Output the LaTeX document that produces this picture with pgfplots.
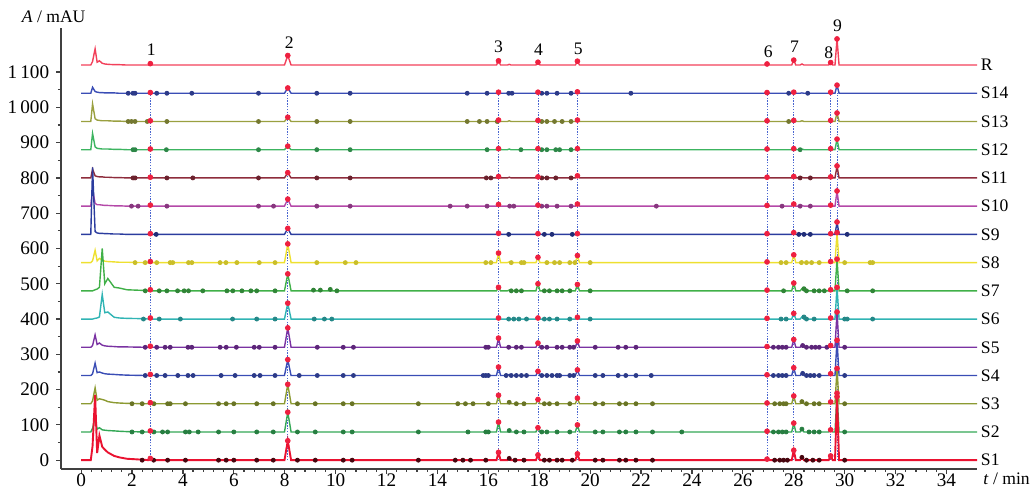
\documentclass[border=0pt]{standalone}
\usepackage{fontspec}
\setmainfont{Liberation Serif}
\usepackage{pgfplots}
\pgfplotsset{compat=1.18}
\usepackage{pgfplotstable}

\definecolor{cR}{HTML}{F2405A}
\definecolor{cS14}{HTML}{3A4DB5}
\definecolor{cS13}{HTML}{9AA040}
\definecolor{cS12}{HTML}{3CB460}
\definecolor{cS11}{HTML}{8E2C3C}
\definecolor{cS10}{HTML}{B448A8}
\definecolor{cS9}{HTML}{2B3C9E}
\definecolor{cS8}{HTML}{EEE030}
\definecolor{cS7}{HTML}{40B048}
\definecolor{cS6}{HTML}{30B4B4}
\definecolor{cS5}{HTML}{7A32A2}
\definecolor{cS4}{HTML}{3A4DB5}
\definecolor{cS3}{HTML}{8C9A32}
\definecolor{cS2}{HTML}{34A856}
\definecolor{cS1}{HTML}{EA1230}
\definecolor{cTop}{HTML}{EE2040}
\definecolor{cLine}{HTML}{4A66D0}

\pgfplotstableread{
t     S1  S2  S3  S4  S5  S6  S7  S8  S9  S10 S11 S12 S13  S14  R
0.00  0   80  160 240 320 400 480 560 640 720 800 880 960  1040 1120
0.38  0   80  160 240 320 400 480 560 640 720 800 880 960  1040 1120
0.45  40  90  168 245 325 400 480 565 830 768 825 926 1010 1057 1130
0.55  185 120 205 275 355 402 483 595 648 728 806 888 968  1045 1166
0.63  20  88  170 248 328 403 485 565 644 724 804 884 964  1043 1128
0.72  70  92  174 250 332 406 490 572 643 724 803 883 963  1042 1132
0.83  38  86  172 247 326 470 600 568 643 723 803 882 962  1042 1125
0.93  30  85  170 245 324 418 500 564 642 722 802 882 962  1041 1123
1.05  22  84  166 244 323 420 515 563 642 722 802 882 962  1041 1122
1.30  12  83  163 243 322 405 490 562 641 721 801 881 961  1041 1121
1.50  8   82  162 242 321 403 488 561 641 721 801 881 961  1040 1121
1.80  4   81  161 241 321 402 483 561 640 720 800 880 960  1040 1120
2.50  1   80  160 240 320 401 481 560 640 720 800 880 960  1040 1120
2.64  0   80  160 240 320 400 480 560 640 720 800 880 960  1040 1120
2.72  5   83  163 243 323 403 483 563 642 723 802 882 962  1042 1124
2.80  0   80  160 240 320 400 480 560 640 720 800 880 960  1040 1120
7.99  0   80  160 240 320 400 480 560 640 720 800 880 960  1040 1120
8.12  55  136 215 285 375 445 528 613 657 740 815 890 972  1055 1147
8.25  0   80  160 240 320 400 480 560 640 720 800 880 960  1040 1120
16.32 0   80  160 240 320 400 480 560 640 720 800 880 960  1040 1120
16.40 22  108 184 264 346 403 490 587 643 725 804 883 964  1043 1132
16.48 0   80  160 240 320 400 480 560 640 720 800 880 960  1040 1120
16.75 0   80  160 240 320 400 480 560 640 720 800 880 960  1040 1120
16.82 5   84  164 243 323 402 482 562 642 722 802 882 962  1042 1122
16.89 0   80  160 240 320 400 480 560 640 720 800 880 960  1040 1120
17.87 0   80  160 240 320 400 480 560 640 720 800 880 960  1040 1120
17.95 15  92  172 252 332 403 500 575 642 723 803 883 963  1043 1128
18.03 0   80  160 240 320 400 480 560 640 720 800 880 960  1040 1120
19.42 0   80  160 240 320 400 480 560 640 720 800 880 960  1040 1120
19.50 18  100 176 256 338 405 498 580 642 726 806 883 964  1044 1131
19.58 0   80  160 240 320 400 480 560 640 720 800 880 960  1040 1120
26.87 0   80  160 240 320 400 480 560 640 720 800 880 960  1040 1120
26.95 3   82  162 242 322 402 482 562 642 722 802 882 962  1042 1123
27.03 0   80  160 240 320 400 480 560 640 720 800 880 960  1040 1120
27.92 0   80  160 240 320 400 480 560 640 720 800 880 960  1040 1120
28.00 28  105 182 262 342 416 502 582 645 726 804 883 963  1043 1134
28.08 0   80  160 240 320 400 480 560 640 720 800 880 960  1040 1120
28.25 0   80  160 240 320 400 480 560 640 720 800 880 960  1040 1120
28.32 8   88  166 246 325 406 486 565 642 722 802 882 962  1041 1123
28.40 0   80  160 240 320 400 480 560 640 720 800 880 960  1040 1120
29.37 0   80  160 240 320 400 480 560 640 720 800 880 960  1040 1120
29.45 12  86  165 245 325 403 483 563 642 723 803 883 963  1043 1127
29.53 0   80  160 240 320 400 480 560 640 720 800 880 960  1040 1120
29.62 0   80  160 240 320 400 480 560 640 720 800 880 960  1040 1120
29.70 180 190 260 340 420 490 570 645 675 763 834 910 984  1063 1194
29.78 0   80  160 240 320 400 480 560 640 720 800 880 960  1040 1120
35.20 0   80  160 240 320 400 480 560 640 720 800 880 960  1040 1120
}\chrom

\pgfplotstableread{
t     S1  S2  S3  S4  S5  S6  S7  S8  S9  S10 S11 S12 S13  S14  R
2.72  5   83  163 243 323 403 483 563 642 723 802 882 962  1042 1124
8.12  55  136 215 285 375 445 528 613 657 740 815 890 972  1055 1147
16.40 22  108 184 264 346 403 490 587 643 725 804 883 964  1043 1132
17.95 15  92  172 252 332 403 500 575 642 723 803 883 963  1043 1128
19.50 18  100 176 256 338 405 498 580 642 726 806 883 964  1044 1131
26.95 3   82  162 242 322 402 482 562 642 722 802 882 962  1042 1123
28.00 28  105 182 262 342 416 502 582 645 726 804 883 963  1043 1134
29.45 12  86  165 245 325 403 483 563 642 723 803 883 963  1043 1127
29.70 180 190 260 340 420 490 570 645 675 763 834 910 984  1063 1194
}\tops

\pgfplotsset{
  trace/.style={mark=none, line width=0.7pt},
  dots/.style={only marks, mark=*, mark size=1.0pt},
  topm/.style={only marks, mark=*, mark size=1.2pt, color=cTop},
  pk/.style={cLine, dash pattern=on 0.7pt off 0.7pt, line width=0.45pt},
}

\begin{document}
\begin{tikzpicture}
\begin{axis}[
  at={(0,0)}, anchor=south west,
  scale only axis, width=458pt, height=220.5pt,
  xmin=-0.79, xmax=35.2, ymin=-25, ymax=1225,
  axis x line*=bottom, axis y line*=left,
  axis line style={black!75, line width=0.8pt},
  tick align=outside,
  xtick={0,2,...,34}, minor x tick num=4,
  ytick={0,100,...,1100}, minor y tick num=1,
  yticklabels={0,100,200,300,400,500,600,700,800,900,1\,000,1\,100},
  tick style={black!75, line width=0.6pt},
  major tick length=2.4pt, minor tick length=1.5pt,
  ticklabel style={font=\fontsize{9.6}{11}\selectfont},
  xticklabel style={yshift=3.6pt},
  /pgf/number format/assume math mode=true,
  clip=false,
]
% reference peak lines
\addplot[pk] coordinates {(2.72,0) (2.72,1040)};
\addplot[pk] coordinates {(8.12,0) (8.12,1040)};
\addplot[pk] coordinates {(16.40,0) (16.40,1040)};
\addplot[pk] coordinates {(17.95,0) (17.95,1040)};
\addplot[pk] coordinates {(19.50,0) (19.50,1040)};
\addplot[pk] coordinates {(26.95,0) (26.95,1040)};
\addplot[pk] coordinates {(28.00,0) (28.00,1040)};
\addplot[pk] coordinates {(29.45,0) (29.45,1040)};
\addplot[pk] coordinates {(29.70,0) (29.70,1040)};

% traces
\addplot[trace, cR] table[x=t, y=R] {\chrom};
\addplot[trace, cS14] table[x=t, y=S14] {\chrom};
\addplot[trace, cS13] table[x=t, y=S13] {\chrom};
\addplot[trace, cS12] table[x=t, y=S12] {\chrom};
\addplot[trace, cS11] table[x=t, y=S11] {\chrom};
\addplot[trace, cS10] table[x=t, y=S10] {\chrom};
\addplot[trace, cS9] table[x=t, y=S9] {\chrom};
\addplot[trace, cS8] table[x=t, y=S8] {\chrom};
\addplot[trace, cS7] table[x=t, y=S7] {\chrom};
\addplot[trace, cS6] table[x=t, y=S6] {\chrom};
\addplot[trace, cS5] table[x=t, y=S5] {\chrom};
\addplot[trace, cS4] table[x=t, y=S4] {\chrom};
\addplot[trace, cS3] table[x=t, y=S3] {\chrom};
\addplot[trace, cS2] table[x=t, y=S2] {\chrom};
\addplot[trace, cS1, line width=0.95pt] table[x=t, y=S1] {\chrom};

% other detected peaks
\addplot[dots, cS14!75!black] coordinates {(1.85,1040)(2.04,1040)(2.12,1040)(2.97,1040)(3.37,1040)(4.35,1040)(6.97,1040)(9.26,1040)(10.57,1040)(15.17,1040)(15.95,1040)(16.8,1040)(16.93,1040)(18.1,1040)(18.3,1040)(18.7,1040)(19.25,1040)(21.6,1040)(27.8,1040)(28.55,1040)};
\addplot[dots, cS13!75!black] coordinates {(1.85,960)(1.98,960)(2.12,960)(2.6,960)(3.37,960)(6.97,960)(9.26,960)(10.57,960)(15.17,960)(15.65,960)(15.95,960)(16.35,960)(18.1,960)(18.3,960)(18.6,960)(18.9,960)(19.25,960)(27.8,960)};
\addplot[dots, cS12!75!black] coordinates {(2.04,880)(2.12,880)(3.35,880)(6.97,880)(9.26,880)(10.57,880)(15.95,880)(17.28,880)(18.1,880)(18.3,880)(18.65,880)(18.8,880)(19.25,880)(28.25,880)};
\addplot[dots, cS11!75!black] coordinates {(2.04,800)(2.12,800)(3.37,800)(4.39,800)(6.97,800)(9.26,800)(10.57,800)(15.92,800)(16.1,800)(18.1,800)(18.3,800)(18.65,800)(19.25,800)(28.25,800)(28.65,800)};
\addplot[dots, cS10!75!black] coordinates {(1.98,720)(2.24,720)(3.37,720)(6.97,720)(7.56,720)(9.26,720)(10.57,720)(14.5,720)(15.17,720)(15.95,720)(16.84,720)(17.0,720)(18.1,720)(18.3,720)(18.7,720)(19.25,720)(22.6,720)(27.54,720)(28.25,720)(28.65,720)};
\addplot[dots, cS9!75!black] coordinates {(2.95,640)(16.8,640)(18.2,640)(18.5,640)(19.3,640)(28.2,640)(28.4,640)(28.65,640)(30.1,640)};
\addplot[dots, cS8!85!black] coordinates {(2.12,560)(2.52,560)(2.97,560)(3.5,560)(3.6,560)(4.22,560)(4.35,560)(5.46,560)(5.69,560)(6.12,560)(7.0,560)(7.62,560)(9.26,560)(10.38,560)(10.8,560)(15.9,560)(16.1,560)(16.9,560)(17.3,560)(17.4,560)(18.3,560)(18.6,560)(18.8,560)(19.2,560)(19.4,560)(20.0,560)(27.5,560)(27.7,560)(28.3,560)(28.5,560)(28.7,560)(29.0,560)(30.0,560)(31.0,560)(31.1,560)};
\addplot[dots, cS7!75!black] coordinates {(2.52,480)(3.07,480)(3.37,480)(3.79,480)(4.05,480)(4.22,480)(4.78,480)(5.73,480)(5.96,480)(6.32,480)(6.67,480)(6.9,480)(7.62,480)(9.13,482)(9.4,482)(9.79,484)(10.05,480)(16.9,480)(17.1,480)(17.3,480)(18.2,480)(18.4,480)(18.7,480)(18.9,480)(19.2,480)(20.0,480)(27.6,480)(28.4,486)(28.5,480)(28.8,480)(29.0,480)(29.2,480)(30.1,480)(31.1,480)};
\addplot[dots, cS6!75!black] coordinates {(2.45,400)(3.07,400)(3.9,400)(5.95,400)(6.9,400)(7.62,400)(9.16,400)(9.56,400)(9.85,400)(16.8,400)(17.0,400)(17.2,400)(17.5,400)(18.2,400)(18.4,400)(18.7,400)(19.2,400)(20.0,400)(27.5,400)(27.7,400)(28.4,406)(28.5,400)(28.8,400)(30.0,400)(30.1,400)(31.1,400)};
\addplot[dots, cS5!75!black] coordinates {(2.52,320)(2.97,320)(3.3,320)(3.5,320)(4.2,320)(4.35,320)(5.46,320)(5.7,320)(6.1,320)(6.8,320)(7.0,320)(7.62,320)(9.28,320)(10.3,320)(10.7,320)(15.9,320)(16.0,320)(16.8,320)(17.1,320)(17.3,320)(18.1,320)(18.3,320)(18.7,320)(18.9,320)(19.2,320)(19.35,320)(20.2,320)(21.1,320)(21.4,320)(21.8,320)(27.2,320)(27.4,320)(27.55,320)(27.7,320)(28.35,325)(28.5,320)(28.7,320)(28.85,320)(29.0,320)(29.3,320)(30.0,320)};
\addplot[dots, cS4!75!black] coordinates {(2.52,240)(2.97,240)(3.3,240)(3.8,240)(4.2,240)(4.4,240)(5.5,240)(6.05,240)(6.8,240)(7.03,240)(7.62,240)(8.57,240)(9.28,240)(10.3,240)(10.7,240)(15.8,240)(15.9,240)(16.0,240)(16.7,240)(16.9,240)(17.1,240)(17.3,240)(17.5,240)(18.1,240)(18.3,240)(18.5,240)(18.7,240)(18.8,240)(19.2,240)(19.35,240)(20.2,240)(20.5,240)(21.1,240)(21.4,240)(21.8,240)(22.4,240)(27.2,240)(27.4,240)(27.55,240)(27.7,240)(28.35,246)(28.5,240)(28.65,240)(28.8,240)(29.0,240)(30.0,240)};
\addplot[dots, cS3!75!black] coordinates {(2.0,160)(2.4,160)(2.86,160)(3.4,160)(3.5,160)(4.1,160)(5.4,160)(5.7,160)(6.0,160)(6.9,160)(7.55,160)(8.5,160)(9.2,160)(10.3,160)(10.65,160)(13.25,160)(14.8,160)(15.1,160)(15.4,160)(16.0,160)(16.82,164)(17.1,160)(17.4,160)(18.2,160)(18.4,160)(18.7,160)(19.2,160)(20.2,160)(20.5,160)(21.15,160)(21.4,160)(21.8,160)(22.45,160)(27.25,160)(27.45,160)(27.6,160)(27.7,160)(28.32,166)(28.5,160)(28.8,160)(29.0,160)(30.0,160)};
\addplot[dots, cS2!75!black] coordinates {(2.0,80)(2.4,80)(2.86,80)(3.2,80)(3.4,80)(4.1,80)(4.25,80)(4.6,80)(5.4,80)(6.0,80)(6.9,80)(7.55,80)(8.5,80)(9.2,80)(10.3,80)(10.65,80)(13.25,80)(15.2,80)(15.9,80)(16.0,80)(16.82,84)(17.1,80)(17.4,80)(18.1,80)(18.3,80)(18.7,80)(19.2,80)(20.2,80)(20.5,80)(21.15,80)(21.4,80)(21.8,80)(22.45,80)(23.6,80)(27.2,80)(27.4,80)(27.55,80)(27.7,80)(28.32,88)(28.6,80)(28.8,80)(29.0,80)(30.0,80)};
\addplot[dots, black!70!cS1] coordinates {(2.4,0)(2.85,0)(3.4,0)(4.1,0)(5.4,0)(5.7,0)(6.0,0)(6.9,0)(7.55,0)(8.5,0)(9.2,0)(10.3,0)(10.65,0)(13.25,0)(14.7,0)(15.0,0)(15.3,0)(15.9,0)(16.82,5)(17.05,0)(17.4,0)(18.2,0)(18.4,0)(18.7,0)(18.9,0)(19.3,0)(20.2,0)(20.5,0)(21.15,0)(21.4,0)(21.8,0)(22.45,0)(27.25,0)(27.45,0)(27.6,0)(27.75,0)(28.32,8)(28.5,0)(28.75,0)(29.0,0)(30.0,0)};

% matched reference peaks
\addplot[topm] table[x=t, y=R] {\tops};
\addplot[topm] table[x=t, y=S14] {\tops};
\addplot[topm] table[x=t, y=S13] {\tops};
\addplot[topm] table[x=t, y=S12] {\tops};
\addplot[topm] table[x=t, y=S11] {\tops};
\addplot[topm] table[x=t, y=S10] {\tops};
\addplot[topm] table[x=t, y=S9] {\tops};
\addplot[topm] table[x=t, y=S8] {\tops};
\addplot[topm] table[x=t, y=S7] {\tops};
\addplot[topm] table[x=t, y=S6] {\tops};
\addplot[topm] table[x=t, y=S5] {\tops};
\addplot[topm] table[x=t, y=S4] {\tops};
\addplot[topm] table[x=t, y=S3] {\tops};
\addplot[topm] table[x=t, y=S2] {\tops};
\addplot[topm] table[x=t, y=S1] {\tops};

% peak numbers
\begin{scope}[every node/.style={font=\fontsize{8.8}{10}\selectfont, inner sep=0pt}]
\node at (axis cs:2.76,1163) {1};
\node at (axis cs:8.18,1182) {2};
\node at (axis cs:16.40,1171) {3};
\node at (axis cs:17.97,1163) {4};
\node at (axis cs:19.53,1165) {5};
\node at (axis cs:27.00,1157) {6};
\node at (axis cs:28.03,1171) {7};
\node at (axis cs:29.38,1155) {8};
\node at (axis cs:29.72,1230) {9};
\end{scope}

% series labels
\begin{scope}[every node/.style={font=\fontsize{8.8}{10}\selectfont, anchor=west, inner sep=0pt}]
\node at (axis cs:35.34,1120) {R};
\node at (axis cs:35.34,1040) {S14};
\node at (axis cs:35.34,960) {S13};
\node at (axis cs:35.34,880) {S12};
\node at (axis cs:35.34,800) {S11};
\node at (axis cs:35.34,720) {S10};
\node at (axis cs:35.34,640) {S9};
\node at (axis cs:35.34,560) {S8};
\node at (axis cs:35.34,480) {S7};
\node at (axis cs:35.34,400) {S6};
\node at (axis cs:35.34,320) {S5};
\node at (axis cs:35.34,240) {S4};
\node at (axis cs:35.34,160) {S3};
\node at (axis cs:35.34,80) {S2};
\node at (axis cs:35.34,0) {S1};
\end{scope}

% axis titles
\node[font=\fontsize{8.8}{10}\selectfont, inner sep=0pt] at (axis cs:-1.08,1256) {\textit{A} / mAU};
\node[font=\fontsize{8.8}{10}\selectfont, inner sep=0pt] at (axis cs:36.36,-54) {\textit{t} / min};
\end{axis}
\pgfresetboundingbox
\path (-30.5pt,-11pt) rectangle (485.5pt,234.5pt);
\end{tikzpicture}
\end{document}
